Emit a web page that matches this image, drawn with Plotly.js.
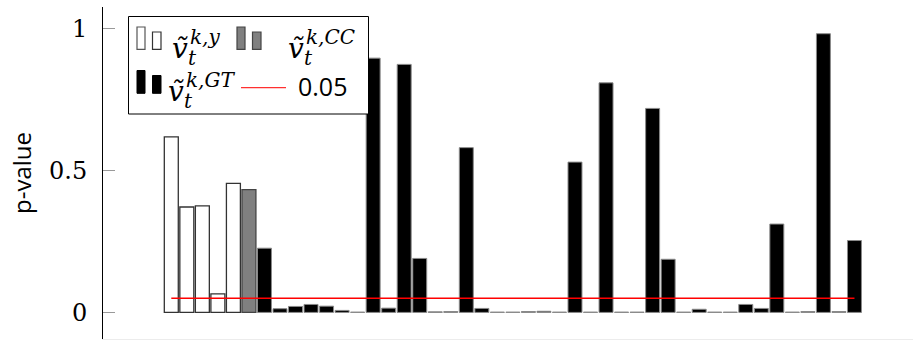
<!DOCTYPE html>
<html>
<head>
<meta charset="utf-8">
<script src="https://cdn.plot.ly/plotly-3.0.1.min.js"></script>
<style>html,body{margin:0;padding:0;background:#fff;}#chart{width:913px;height:340px;}</style>
</head>
<body>
<div id="chart"></div>
<script>
// ---- data ----
const yIdx = [1, 2, 3, 4, 5];
const yVals = [0.618, 0.371, 0.375, 0.065, 0.454];
const ccIdx = [6];
const ccVals = [0.432];
const gtIdx = [7, 8, 9, 10, 11, 12, 13, 14, 15, 16, 17, 18, 19, 20, 21, 22, 23, 24, 25, 26,
               27, 28, 29, 30, 31, 32, 33, 34, 35, 36, 37, 38, 39, 40, 41, 42, 43, 44, 45];
const gtVals = [0.226, 0.013, 0.021, 0.028, 0.022, 0.007, 0.001, 0.895, 0.015, 0.873,
                0.190, 0.002, 0.003, 0.580, 0.014, 0.001, 0.001, 0.003, 0.004, 0.001,
                0.529, 0.001, 0.808, 0.001, 0.001, 0.718, 0.187, 0.001, 0.011, 0.001,
                0.001, 0.028, 0.014, 0.311, 0.001, 0.003, 0.981, 0.003, 0.253];
const thrX = [1, 45];
const thrY = [0.05, 0.05];
const yTickVals = [0, 0.5, 1];
const yTickText = ['0', '0.5', '1'];

// ---- layout helpers (pixel -> paper) ----
const W = 913, H = 340, ML = 103, MR = 0, MT = 7, MB = 1;
const PW = W - ML - MR, PH = H - MT - MB;
const px = X => (X - ML) / PW;
const py = Y => (H - MB - Y) / PH;

const traces = [
  {type: 'bar', x: yIdx, y: yVals, width: 0.9, name: 'y',
   marker: {color: '#ffffff', line: {color: '#333333', width: 1.3}}, showlegend: false},
  {type: 'bar', x: ccIdx, y: ccVals, width: 0.9, name: 'CC',
   marker: {color: '#808080', line: {color: '#444444', width: 1.3}}, showlegend: false},
  {type: 'bar', x: gtIdx, y: gtVals, width: 0.9, name: 'GT',
   marker: {color: '#000000', line: {color: '#8a8a8a', width: 1}}, showlegend: false},
  {type: 'scatter', mode: 'lines', x: thrX, y: thrY, name: '0.05',
   line: {color: '#ff0000', width: 1.5}, showlegend: false}
];

const shapes = [];
function rectPx(x0, y0, x1, y1, fill, lc, lw) {
  shapes.push({type: 'rect', xref: 'paper', yref: 'paper', layer: 'above',
    x0: px(x0), x1: px(x1), y0: py(y1), y1: py(y0),
    fillcolor: fill, line: {color: lc, width: lw}});
}
// legend box
rectPx(128.5, 16.5, 368.5, 114, '#ffffff', '#000000', 1);
// icons row 1: y (white)
rectPx(137, 27, 145, 49.3, '#ffffff', '#555555', 1.2);
rectPx(152.5, 32, 161, 49.3, '#ffffff', '#333333', 1.2);
// icons row 1: CC (grey)
rectPx(237, 27, 245, 49.3, '#808080', '#444444', 1.2);
rectPx(252.5, 32, 261, 49.3, '#808080', '#444444', 1.2);
// icons row 2: GT (black)
rectPx(137, 70.5, 145, 93.3, '#000000', '#000000', 1);
rectPx(152.5, 75.5, 161, 93.3, '#000000', '#000000', 1);
// red line
shapes.push({type: 'line', xref: 'paper', yref: 'paper', layer: 'above',
  x0: px(241), x1: px(286), y0: py(87.7), y1: py(87.7), line: {color: '#ff3030', width: 1.2}});

const annotations = [];
function txt(t, X, Y, size, family, italic) {
  annotations.push({xref: 'paper', yref: 'paper', x: px(X), y: py(Y),
    xanchor: 'left', yanchor: 'middle', showarrow: false,
    text: italic ? '<i>' + t + '</i>' : t,
    font: {family: family, size: size, color: '#000000'}});
}
const MF = 'DejaVu Serif';
function mathLabel(sup, X0, Yrow) {
  txt('\u1E7D', X0, Yrow, 28, MF, true);
  txt(sup, X0 + 18, Yrow - 12, 20, MF, true);
  txt('t', X0 + 16, Yrow + 9, 20, MF, true);
}
mathLabel('k,y', 170, 48.5);
mathLabel('k,CC', 286, 48.5);
mathLabel('k,GT', 166, 92);
txt('0.05', 296, 85.5, 25, 'Open Sans', false);

const layout = {
  width: W, height: H,
  margin: {l: ML, r: MR, t: MT, b: MB, pad: 0},
  paper_bgcolor: '#ffffff', plot_bgcolor: '#ffffff',
  barmode: 'overlay',
  showlegend: false,
  xaxis: {range: [-3.399, 48.77], showgrid: false, zeroline: false,
    showticklabels: false, ticks: '', showline: true, linecolor: '#ececec', linewidth: 1,
    fixedrange: true},
  yaxis: {range: [-0.0936, 1.075], showgrid: false, zeroline: false,
    showline: true, linecolor: '#000000', linewidth: 1,
    tickmode: 'array', tickvals: yTickVals, ticktext: yTickText,
    ticks: 'inside', ticklen: 12, tickwidth: 1, tickcolor: '#999999',
    ticklabelstandoff: 10,
    tickfont: {family: 'DejaVu Serif', size: 24, color: '#000000'},
    title: {text: 'p-value', font: {family: 'Open Sans', size: 24, color: '#000000'}, standoff: 10},
    automargin: false, fixedrange: true},
  shapes: shapes,
  annotations: annotations
};

Plotly.newPlot('chart', traces, layout, {displayModeBar: false, staticPlot: true});
</script>
</body>
</html>
